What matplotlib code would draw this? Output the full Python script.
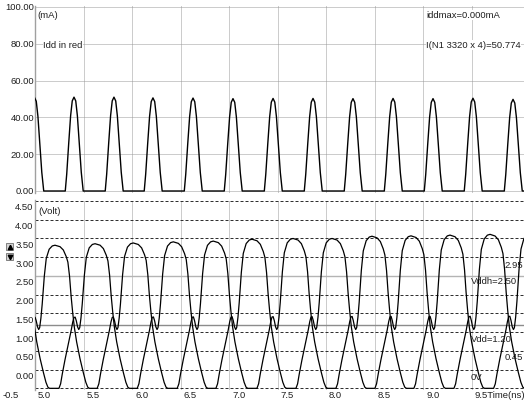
import numpy as np
import matplotlib.pyplot as plt
from matplotlib.patches import Rectangle
from matplotlib.lines import Line2D

plt.rcParams['font.family'] = ['Liberation Sans', 'DejaVu Sans']

W, H = 524, 403

# ---- top panel: supply current Idd (mA) ----
idd_peak_t = [4.995, 5.402, 5.814, 6.216, 6.629, 7.041, 7.454, 7.866,
              8.278, 8.691, 9.103, 9.515, 9.928]
idd_peak_ma = [50.8, 51.0, 51.0, 50.6, 50.5, 50.2, 50.3, 50.3,
               50.2, 50.3, 50.2, 50.4, 49.8]
# one current pulse: time from its peak (ns), fraction of the peak
pulse_dt = [-0.090, -0.075, -0.055, -0.035, -0.018, 0.0,
            0.018, 0.035, 0.055, 0.075, 0.095, 0.125]
pulse_frac = [0.0, 0.18, 0.50, 0.80, 0.96, 1.0,
              0.96, 0.80, 0.50, 0.20, 0.0, 0.0]
idd_ticks = [0, 20, 40, 60, 80, 100]

# ---- bottom panel: the two node voltages (V) ----
# peaks alternate between node 1 and node 2
v_peak_t = [4.795, 5.206, 5.619, 6.013, 6.426, 6.838, 7.237,
            7.660, 8.062, 8.474, 8.876, 9.278, 9.691, 10.10]
v_peak_v = [3.30, 3.32, 3.36, 3.38, 3.41, 3.43, 3.48,
            3.50, 3.50, 3.56, 3.57, 3.59, 3.61, 3.62]
# one swing around a peak (read on the 5.6 ns cycle): time from peak, volts
wave_dt = [-0.412, -0.372, -0.355, -0.338, -0.310, -0.275, -0.245, -0.230,
           -0.217, -0.205, -0.193, -0.180, -0.168, -0.158, -0.145, -0.132,
           -0.110, -0.090, -0.060, -0.028, 0.0,
           0.052, 0.086, 0.116, 0.133, 0.150, 0.166, 0.182, 0.199,
           0.223, 0.258, 0.292, 0.318, 0.338, 0.355, 0.412]
wave_v = [-0.50, -0.50, -0.38, -0.12, 0.26, 0.69, 1.06, 1.27,
          1.39, 1.40, 1.30, 1.14, 1.07, 1.12, 1.38, 1.75,
          2.52, 3.00, 3.25, 3.34, 3.36,
          3.32, 3.23, 3.05, 2.90, 2.52, 1.98, 1.54, 1.14,
          0.74, 0.29, -0.08, -0.34, -0.47, -0.50, -0.50]
wave_ref = 3.36
vddh = 2.50
vdd = 1.20
v_ticks = [4.5, 4.0, 3.5, 3.0, 2.5, 2.0, 1.5, 1.0, 0.5, 0.0]
t_ticks = [5.0, 5.5, 6.0, 6.5, 7.0, 7.5, 8.0, 8.5, 9.0, 9.5]


def build_idd():
    ts, vs = [], []
    for tp, pk in zip(idd_peak_t, idd_peak_ma):
        ts += [tp + d for d in pulse_dt]
        vs += [pk * f for f in pulse_frac]
    return np.array(ts), np.array(vs)


def build_node(peaks, heights):
    ts, vs = [], []
    dt = np.array(wave_dt)
    wv = np.array(wave_v)
    w = np.clip((wv - 1.2) / (wave_ref - 1.2), 0, 1)
    for tp, pk in zip(peaks, heights):
        ts += list(tp + dt)
        vs += list(wv + (pk - wave_ref) * w)
    return np.array(ts), np.array(vs)


def box(left, top, right, bottom):
    return [left / W, 1 - bottom / H, (right - left) / W, (bottom - top) / H]


def ftext(x, y, s, ha='left', bg=False, **kw):
    t = fig.text(x / W, 1 - y / H, s, ha=ha, va='center', fontsize=6.8,
                 color='#202020', **kw)
    if bg:
        t.set_bbox(dict(facecolor='white', edgecolor='none', pad=0.3))
    return t


fig = plt.figure(figsize=(W / 100, H / 100), dpi=100)

# top panel
ax1 = fig.add_axes(box(35, 6.08, 524, 192.84))
ax1.set_xlim(5.0, 10.041)
ax1.set_ylim(-1, 100.5)
t_i, v_i = build_idd()
ax1.plot(t_i, v_i, color='black', lw=1.0, zorder=3)
ax1.set_xticks(t_ticks[1:])
ax1.set_yticks(idd_ticks, ['%.2f' % v for v in idd_ticks])
ax1.tick_params(axis='x', labelbottom=False, length=0)
ax1.tick_params(axis='y', length=0, pad=0.6, labelsize=6.8, labelcolor='#202020')
ax1.grid(True, color='#9a9a9a', lw=0.72, linestyle=(0, (1, 1)))
for s in ['top', 'right', 'bottom']:
    ax1.spines[s].set_visible(False)
ax1.spines['left'].set_color('#a0a0a0')
ax1.spines['left'].set_linewidth(1.0)

# bottom panel
ax2 = fig.add_axes(box(35, 200.25, 524, 390.2))
ax2.set_xlim(5.0, 10.041)
ax2.set_ylim(-0.55, 4.52)
ta, va = build_node(v_peak_t[0::2], v_peak_v[0::2])
tb, vb = build_node(v_peak_t[1::2], v_peak_v[1::2])
ax2.plot(ta, va, color='black', lw=0.9, zorder=3)
ax2.plot(tb, vb, color='black', lw=0.9, zorder=3)
ax2.axhline(vddh, color='#b4b4b4', lw=1.0, zorder=2.5)
ax2.axhline(vdd, color='#8c8c8c', lw=1.0, zorder=2.5)
ax2.set_xticks(t_ticks[1:])
ax2.set_yticks(v_ticks + [-0.5])
ax2.tick_params(labelbottom=False, labelleft=False, length=0)
ax2.grid(True, axis='x', color='#9a9a9a', lw=0.72, linestyle=(0, (1, 1)))
ax2.grid(True, axis='y', color='#303030', lw=0.72, linestyle=(0, (3, 2)))
for s in ['top', 'right', 'bottom']:
    ax2.spines[s].set_visible(False)
ax2.spines['left'].set_color('#a0a0a0')
ax2.spines['left'].set_linewidth(1.0)

px = 0.72  # points per pixel
for v in v_ticks:
    ax2.annotate('%.2f' % v, xy=(0, v), xycoords=('axes fraction', 'data'),
                 xytext=(-1.5 * px, -7 * px), textcoords='offset points',
                 ha='right', va='center', fontsize=6.8, color='#202020',
                 annotation_clip=False)
ax2.annotate('-0.5', xy=(0, -0.5), xycoords=('axes fraction', 'data'),
             xytext=(-32 * px, -7 * px), textcoords='offset points',
             ha='left', va='center', fontsize=6.8, color='#202020',
             annotation_clip=False)
for t in t_ticks:
    lbl = '%.1f' % t
    if t == t_ticks[-1]:
        lbl += 'Time(ns)'
    ax2.annotate(lbl, xy=(t, 0), xycoords=('data', 'axes fraction'),
                 xytext=(3 * px, -5 * px), textcoords='offset points',
                 ha='left', va='center', fontsize=6.8, color='#202020',
                 annotation_clip=False)

# panel texts
ftext(37, 15, '(mA)', bg=True)
ftext(43, 45, 'Idd in red', bg=True)
ftext(426, 15, 'iddmax=0.000mA', bg=True)
ftext(426, 45, 'I(N1 3320 x 4)=50.774', bg=True)
ftext(38, 212, '(Volt)')
ftext(471, 282, 'Vddh=2.50')
ftext(471, 340, 'Vdd=1.20')
ftext(523, 266, '2.95', ha='right')
ftext(523, 358, '0.45', ha='right')
ftext(471, 377, '0V')

# scroll buttons at the left of the voltage panel
for top, mk in [(243, '^'), (253, 'v')]:
    fig.add_artist(Rectangle((6 / W, 1 - (top + 7) / H), 7 / W, 7 / H,
                             transform=fig.transFigure, facecolor='#d4d4d4',
                             edgecolor='#707070', lw=0.6))
    fig.add_artist(Line2D([9.5 / W], [1 - (top + 3.5) / H], marker=mk,
                          markersize=3.2, color='black', lw=0,
                          transform=fig.transFigure))

fig.savefig('out.png', dpi=100)
